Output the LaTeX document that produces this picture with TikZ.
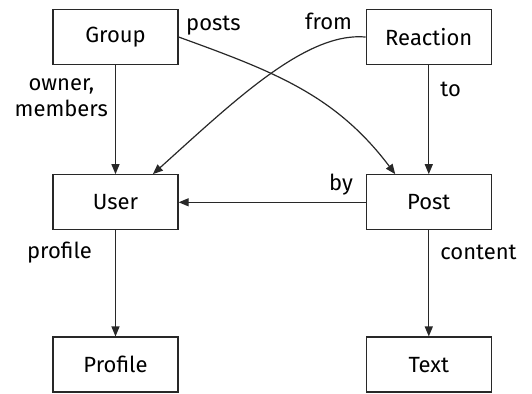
\documentclass[tikz,border=0pt]{standalone}
\usepackage{fontspec}
\setmainfont{Fira Sans}
\usepackage{tikz}
\usetikzlibrary{arrows.meta,positioning}
\definecolor{trazo}{RGB}{40,40,40}
\tikzset{
  caja/.style={rectangle,draw=trazo,line width=0.65pt,fill=white,
    minimum width=62.5pt,minimum height=27.5pt,inner sep=2pt,font=\fontsize{11}{13}\selectfont},
  flecha/.style={-{Triangle[length=5pt,width=4pt]},trazo,line width=0.6pt},
  rotulo/.style={font=\fontsize{11}{13}\selectfont,text=black,inner sep=3.5pt,align=center},
}
\begin{document}
\begin{tikzpicture}[node distance=54.5pt and 93.5pt]
    \useasboundingbox (-57.75pt,18.5pt) rectangle (208.25pt,-178pt);
    \node[caja] (g) {Group};
    \node[caja,right=of g] (r) {Reaction};
    \node[caja,below=of g] (u) {User};
    \node[caja,below=of r] (p) {Post};
    \node[caja,below=53pt of u] (pf) {Profile};
    \node[caja,below=53pt of p] (t) {Text};
    \draw[flecha] (g)--(u) node[rotulo,left,pos=0.3] {owner,\\members};
    \draw[flecha] (u)--(pf) node[rotulo,left,pos=0.21,xshift=-8pt] {profile};
    \draw[flecha] (r)--(p) node[rotulo,right,pos=0.22,xshift=2pt] {to};
    \draw[flecha] (p)--(t) node[rotulo,right,pos=0.21,xshift=2pt] {content};
    \draw[flecha] (p.west)--(u.east) node[rotulo,anchor=south east,pos=0,xshift=-2.5pt] {by};
    \draw[flecha] (g.east) to[out=-20,in=127] node[rotulo,anchor=south west,pos=0,yshift=-3pt] {posts} (p.140);
    \draw[flecha] (r.west) .. controls +(175:30pt) and +(42:55pt) .. (u.37)
      node[rotulo,anchor=south east,pos=0,xshift=-3pt] {from};
  \end{tikzpicture}
\end{document}
